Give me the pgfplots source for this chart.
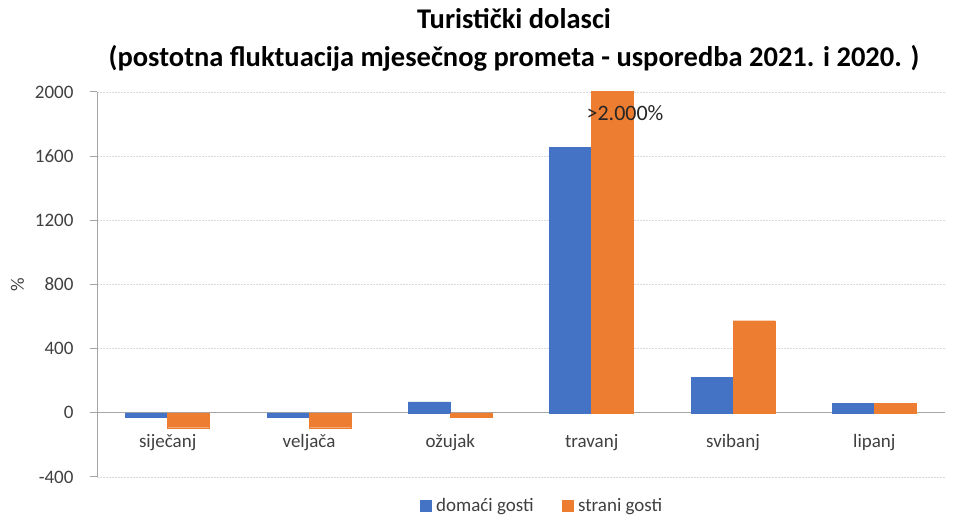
\documentclass[border=0pt]{standalone}
\usepackage{pgfplots}
\pgfplotsset{compat=1.18}
\usepackage{fontspec}
\setmainfont{Carlito}
\definecolor{cblue}{HTML}{4472C4}
\definecolor{corange}{HTML}{ED7D31}
\definecolor{cgrid}{HTML}{D9D9D9}
\definecolor{caxis}{HTML}{A6A6A6}
\definecolor{ctext}{HTML}{404040}
\begin{document}
\begin{tikzpicture}[x=1pt,y=1pt]
\useasboundingbox (0,0) rectangle (964,518);
\node[align=center, font=\fontsize{28.5}{38}\selectfont\bfseries, text=black] at (514,478) {Turistički dolasci\\(postotna fluktuacija mjesečnog prometa - usporedba 2021. i 2020. )};
\begin{axis}[
  at={(97pt,41pt)}, anchor=south west,
  scale only axis, width=848pt, height=385pt,
  ybar=0pt, bar width=42pt,
  xmin=-0.5, xmax=5.5, ymin=-400, ymax=2000,
  ytick={-400,0,400,800,1200,1600,2000},
  xtick={0,1,2,3,4,5},
  xticklabels={siječanj,veljača,ožujak,travanj,svibanj,lipanj},
  /pgf/number format/assume math mode=true,
  scaled y ticks=false,
  yticklabel style={/pgf/number format/1000 sep={}, font=\fontsize{19}{22}\selectfont, text=ctext, xshift=-13pt},
  xticklabel style={font=\fontsize{19}{22}\selectfont, text=ctext, yshift=53pt},
  axis lines*=left,
  x axis line style={draw=none},
  y axis line style={draw=caxis, line width=1pt},
  major x tick style={draw=none},
  major y tick style={draw=caxis, line width=1pt},
  tick align=outside, major tick length=7pt,
  ymajorgrids, grid style={cgrid, dash pattern=on 2pt off 1pt, line width=0.8pt},
  extra y ticks={0}, extra y tick labels={},
  extra y tick style={grid style={caxis, solid, line width=1.2pt}},
  ylabel={\%}, ylabel style={font=\fontsize{19}{22}\selectfont, text=ctext, at={(ticklabel cs:0.5)}, yshift=-10pt},
  legend style={at={(rel axis cs:0.5,0)}, anchor=center, xshift=21pt, yshift=-29pt, draw=none, fill=none, legend columns=2, font=\fontsize{19}{22}\selectfont, text=ctext, inner sep=0pt, /tikz/every even column/.append style={column sep=26pt}},
  legend image code/.code={\fill[#1] (0pt,-5pt) rectangle (11pt,6pt); \path (14pt,0pt);},
  clip=true,
]
\addplot[fill=cblue, draw=cblue] coordinates {(0,-25) (1,-25) (2,69) (3,1657) (4,222) (5,60)};
\addplot[fill=corange, draw=corange] coordinates {(0,-93) (1,-93) (2,-25) (3,2200) (4,574) (5,60)};
\legend{domaći gosti, strani gosti}
\node[font=\fontsize{22}{24}\selectfont, text=black!85] at (axis cs:3.236,1869) {>2.000\%};
\end{axis}
\end{tikzpicture}
\end{document}
